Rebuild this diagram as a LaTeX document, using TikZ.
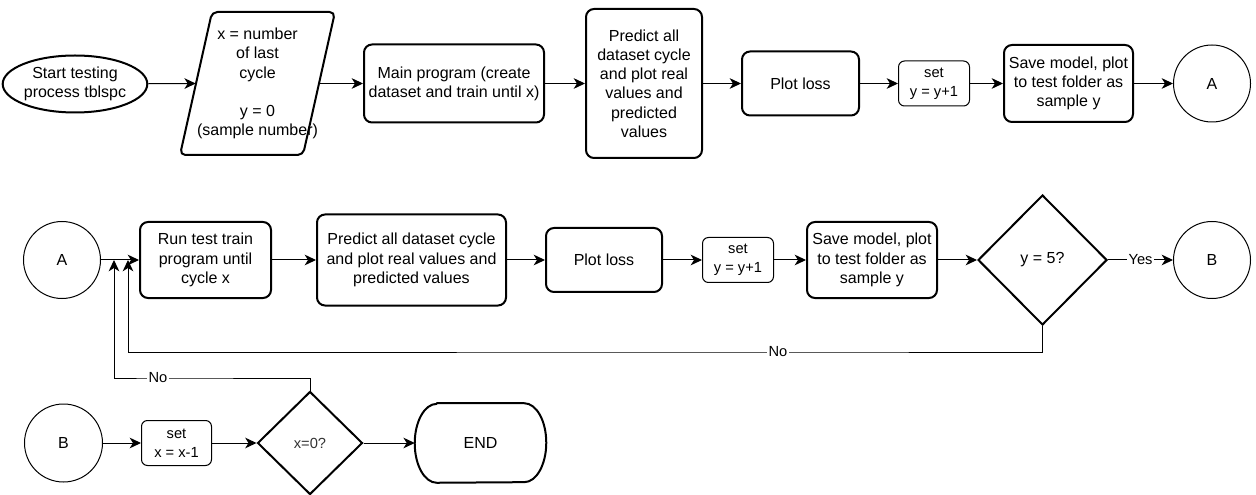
\documentclass[tikz,border=0pt]{standalone}
\usepackage{fontspec}
\setmainfont{Liberation Sans}
\usetikzlibrary{shapes.geometric, arrows.meta}

\begin{document}
\begin{tikzpicture}[x=0.75pt, y=-0.75pt,
  every node/.style={font=\fontsize{12}{14.4}\selectfont, align=center, inner sep=0pt},
  sz/.style 2 args={minimum width=#1*0.75pt, minimum height=#2*0.75pt},
  proc/.style={draw, line width=1.5pt, rounded corners=6pt},
  setbox/.style={draw, line width=0.75pt, rounded corners=4.5pt, font=\fontsize{11}{14}\selectfont},
  conn/.style={circle, draw, line width=0.75pt},
  decision/.style={diamond, draw, line width=1.5pt},
  bold/.style={line width=1.5pt, line join=round},
  flow/.style={-{Stealth[length=8.5pt, width=8pt, inset=2.5pt]}, line width=0.75pt},
  lbl/.style={fill=white, inner sep=1pt, font=\fontsize{11}{13}\selectfont}]
\useasboundingbox (0,0) rectangle (1256,495);

% ---- first row: initial training run ----
\node[ellipse, draw, line width=1.5pt, sz={132}{57}] (start) at (75,84) {Start testing\\process tblspc};
\node[sz={123}{141}] (inp) at (257.5,83.5) {x = number\\of last\\cycle\\[14.4pt]y = 0\\(sample number)};
\draw[bold, rounded corners=4pt] (180,155) -- (303,155) -- (335,12) -- (212,12) -- cycle;
\node[proc, sz={180}{78}] (main) at (454,83.5) {Main program (create\\dataset and train until x)};
\node[proc, sz={116}{149}] (pred1) at (644,83.5) {Predict all\\dataset cycle\\and plot real\\values and\\predicted\\values};
\node[proc, sz={117}{64}] (plot1) at (800.5,83.5) {Plot loss};
\node[setbox, sz={71}{45}] (set1) at (934,83.5) {set\\y = y+1};
\node[proc, sz={129}{77}] (save1) at (1068.5,83.5) {Save model, plot\\to test folder as\\sample y};
\node[conn, minimum size=77*0.75pt] (A1) at (1212,83.5) {A};

\draw[flow] (start) -- (inp.west);
\draw[flow] (inp.east) -- (main);
\draw[flow] (main) -- (pred1);
\draw[flow] (pred1) -- (plot1);
\draw[flow] (plot1) -- (set1);
\draw[flow] (set1) -- (save1);
\draw[flow] (save1) -- (A1);

% ---- second row: repeated samples ----
\node[conn, minimum size=77*0.75pt] (A2) at (62,260) {A};
\node[proc, sz={131}{76}] (run) at (205.5,260) {Run test train\\program until\\cycle x};
\node[proc, sz={189}{91}] (pred2) at (411.5,260) {Predict all dataset cycle\\and plot real values and\\predicted values};
\node[proc, sz={116}{64}] (plot2) at (604,260) {Plot loss};
\node[setbox, sz={71}{45}] (set2) at (738,260) {set\\y = y+1};
\node[proc, sz={130}{76}] (save2) at (872,260) {Save model, plot\\to test folder as\\sample y};
\node[decision, sz={129}{130}] (ycheck) at (1042.5,260) {y = 5?};
\node[conn, minimum size=77*0.75pt] (B2) at (1212,260) {B};

\coordinate (j1) at (128,260);
\coordinate (j2) at (114,260);
\coordinate (n1) at (778,352);
\coordinate (n2) at (158,378);

\draw[flow] (A2) -- (run);
\draw[flow] (run) -- (pred2);
\draw[flow] (pred2) -- (plot2);
\draw[flow] (plot2) -- (set2);
\draw[flow] (set2) -- (save2);
\draw[flow] (save2) -- (ycheck);
\draw[flow] (ycheck) -- node[lbl, pos=0.5] {Yes} (B2);
\draw[flow] (ycheck.south) |- (n1) node[lbl] {No} -| (j1);

% ---- third row: next cycle or finish ----
\node[conn, minimum size=78*0.75pt] (B3) at (63.5,443) {B};
\node[setbox, sz={70}{45}] (set3) at (176.5,443) {set\\x = x-1};
\node[decision, sz={105}{103}, font=\fontsize{11}{13}\selectfont, text=black!80] (xcheck) at (310,443) {x=0?};
\node[sz={131}{79}] (end) at (480.5,443) {END};
\draw[bold] ([xshift=16.5pt]end.north west) -- ([xshift=-16.5pt]end.north east)
  arc[start angle=90, end angle=-90, x radius=16.5pt, y radius=29.6pt]
  -- ([xshift=16.5pt]end.south west)
  arc[start angle=270, end angle=90, x radius=16.5pt, y radius=29.6pt] -- cycle;

\draw[flow] (B3) -- (set3);
\draw[flow] (set3) -- (xcheck);
\draw[flow] (xcheck) -- (end.west);
\draw[flow] (xcheck.north) |- (n2) node[lbl] {No} -| (j2);
\end{tikzpicture}
\end{document}
